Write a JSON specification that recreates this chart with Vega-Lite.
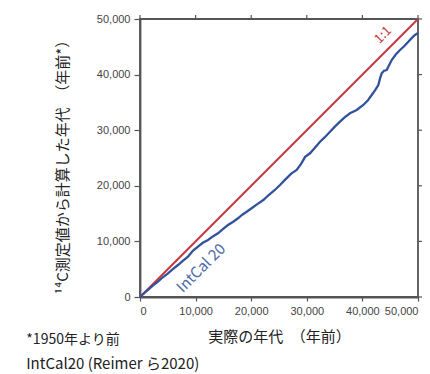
{
  "$schema": "https://vega.github.io/schema/vega-lite/v6.json",
  "width": 278,
  "height": 278,
  "autosize": {"type": "none"},
  "padding": {"left": 140, "top": 19, "right": 12, "bottom": 77},
  "background": "white",
  "config": {
    "view": {"stroke": "#555555", "strokeWidth": 1.8},
    "axis": {
      "grid": false,
      "domainColor": "#555555",
      "domainWidth": 1.8,
      "tickColor": "#555555",
      "tickWidth": 1.2,
      "labelFont": "Liberation Sans",
      "labelFontSize": 11,
      "labelColor": "#444444",
      "titleFont": "Noto Sans CJK JP",
      "titleFontSize": 15,
      "titleFontWeight": "normal",
      "titleColor": "#222222"
    }
  },
  "title": {
    "text": "IntCal20 (Reimer ら2020)",
    "orient": "bottom",
    "anchor": "start",
    "font": "Noto Sans CJK JP",
    "fontSize": 15,
    "fontWeight": "normal",
    "color": "#222222",
    "offset": 10
  },
  "datasets": {
    "intcal": [
      {"cal": 0, "c14": 0}, {"cal": 700, "c14": 650}, {"cal": 1439, "c14": 1259}, {"cal": 2300, "c14": 2050},
      {"cal": 3237, "c14": 2763}, {"cal": 4100, "c14": 3550}, {"cal": 5036, "c14": 4263}, {"cal": 5900, "c14": 5000},
      {"cal": 6835, "c14": 5755}, {"cal": 7700, "c14": 6500}, {"cal": 8633, "c14": 7248}, {"cal": 9500, "c14": 8300},
      {"cal": 10432, "c14": 9047}, {"cal": 11300, "c14": 9750}, {"cal": 12230, "c14": 10252}, {"cal": 13100, "c14": 10900},
      {"cal": 14029, "c14": 11457}, {"cal": 14900, "c14": 12200}, {"cal": 15828, "c14": 12950}, {"cal": 16700, "c14": 13500},
      {"cal": 17626, "c14": 14155}, {"cal": 18400, "c14": 14800}, {"cal": 19191, "c14": 15342}, {"cal": 20200, "c14": 16050},
      {"cal": 21100, "c14": 16700}, {"cal": 22177, "c14": 17446}, {"cal": 23100, "c14": 18300}, {"cal": 24200, "c14": 19200},
      {"cal": 25180, "c14": 20144}, {"cal": 26200, "c14": 21200}, {"cal": 27200, "c14": 22200}, {"cal": 28184, "c14": 22842},
      {"cal": 29000, "c14": 24000}, {"cal": 29700, "c14": 25200}, {"cal": 30576, "c14": 25846}, {"cal": 31500, "c14": 26900},
      {"cal": 32375, "c14": 27932}, {"cal": 33200, "c14": 28700}, {"cal": 34173, "c14": 29731}, {"cal": 35000, "c14": 30600},
      {"cal": 35972, "c14": 31530}, {"cal": 36800, "c14": 32300}, {"cal": 37770, "c14": 33041}, {"cal": 38975, "c14": 33634},
      {"cal": 40163, "c14": 34533}, {"cal": 41000, "c14": 35400}, {"cal": 41674, "c14": 36332}, {"cal": 42300, "c14": 37200},
      {"cal": 42861, "c14": 38130}, {"cal": 43200, "c14": 39400}, {"cal": 43472, "c14": 40234}, {"cal": 43900, "c14": 40700},
      {"cal": 44371, "c14": 40828}, {"cal": 44800, "c14": 41700}, {"cal": 45270, "c14": 42627}, {"cal": 46000, "c14": 43600},
      {"cal": 46764, "c14": 44425}, {"cal": 47500, "c14": 45100}, {"cal": 48256, "c14": 45918}, {"cal": 48900, "c14": 46600},
      {"cal": 49461, "c14": 47123}, {"cal": 50000, "c14": 47483}
    ],
    "oneone": [{"cal": 0, "c14": 0}, {"cal": 50000, "c14": 50000}],
    "labels": [
      {"cal": 43706, "c14": 47123, "label": "1:1", "kind": "red"},
      {"cal": 10971, "c14": 5216, "label": "IntCal 20", "kind": "blue"}
    ],
    "note": [{"cal": -12050, "c14": -7734, "label": "*1950年より前"}],
    "tickvals": [{"cal": 0, "c14": 0}, {"cal": 10000, "c14": 10000}, {"cal": 20000, "c14": 20000}, {"cal": 30000, "c14": 30000}, {"cal": 40000, "c14": 40000}, {"cal": 50000, "c14": 50000}]
  },
  "encoding": {
    "x": {
      "field": "cal", "type": "quantitative",
      "scale": {"domain": [0, 50000], "nice": false},
      "axis": {
        "values": [0, 10000, 20000, 30000, 40000, 50000],
        "format": ",d",
        "title": "実際の年代　（年前）",
        "tickSize": 4,
        "labelPadding": 4,
        "titleY": 39,
        "titleBaseline": "middle"
      }
    },
    "y": {
      "field": "c14", "type": "quantitative",
      "scale": {"domain": [0, 50000], "nice": false},
      "axis": {
        "values": [0, 10000, 20000, 30000, 40000, 50000],
        "format": ",d",
        "title": "¹⁴C測定値から計算した年代　（年前*）",
        "tickSize": 6,
        "labelPadding": 4,
        "titleX": -78,
        "titleY": 144,
        "titleBaseline": "middle"
      }
    }
  },
  "layer": [
    {
      "data": {"name": "oneone"},
      "mark": {"type": "line", "color": "#c8363d", "strokeWidth": 2}
    },
    {
      "data": {"name": "intcal"},
      "mark": {"type": "line", "color": "#33529c", "strokeWidth": 2.3}
    },
    {
      "data": {"name": "labels"},
      "mark": {"type": "text", "angle": -45, "font": "Noto Sans CJK JP", "fontSize": 14, "align": "center", "baseline": "middle"},
      "encoding": {
        "text": {"field": "label"},
        "color": {"field": "kind", "type": "nominal", "scale": {"domain": ["red", "blue"], "range": ["#c8363d", "#4a68a8"]}, "legend": null},
        "size": {"field": "kind", "type": "nominal", "scale": {"domain": ["red", "blue"], "range": [13, 15]}, "legend": null}
      }
    },
    {
      "data": {"name": "note"},
      "mark": {"type": "text", "font": "Noto Sans CJK JP", "fontSize": 14, "align": "center", "baseline": "middle", "color": "#222222", "clip": false},
      "encoding": {
        "text": {"field": "label"}
      }
    },
    {
      "data": {"name": "tickvals"},
      "mark": {"type": "rule", "color": "#555555", "strokeWidth": 1.2, "clip": false},
      "encoding": {
        "x": {"field": "cal", "type": "quantitative"},
        "y": {"datum": 50000},
        "y2": {"datum": 50720}
      }
    },
    {
      "data": {"name": "tickvals"},
      "mark": {"type": "rule", "color": "#555555", "strokeWidth": 1.2, "clip": false},
      "encoding": {
        "y": {"field": "c14", "type": "quantitative"},
        "x": {"datum": 50000},
        "x2": {"datum": 50720}
      }
    }
  ]
}
